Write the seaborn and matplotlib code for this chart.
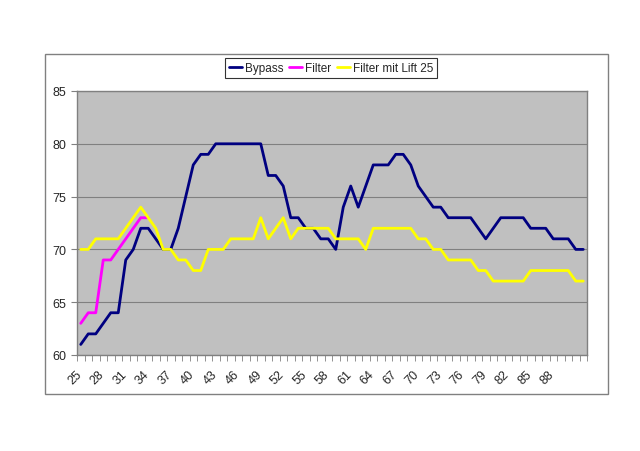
import numpy as np
import pandas as pd
import seaborn as sns
from matplotlib import pyplot as plt
from matplotlib.patches import Rectangle
from matplotlib.transforms import ScaledTranslation

# x-Kategorien 25..92
kategorien = list(range(25, 93))

bypass = [61, 62, 62, 63, 64, 64, 69, 70, 72, 72,
          71, 70, 70, 72, 75, 78, 79, 79, 80, 80,
          80, 80, 80, 80, 80, 77, 77, 76, 73, 73,
          72, 72, 71, 71, 70, 74, 76, 74, 76, 78,
          78, 78, 79, 79, 78, 76, 75, 74, 74, 73,
          73, 73, 73, 72, 71, 72, 73, 73, 73, 73,
          72, 72, 72, 71, 71, 71, 70, 70]

filter_werte = [63, 64, 64, 69, 69, 70, 71, 72, 73, 73]

filter_lift = [70, 70, 71, 71, 71, 71, 72, 73, 74, 73,
               72, 70, 70, 69, 69, 68, 68, 70, 70, 70,
               71, 71, 71, 71, 73, 71, 72, 73, 71, 72,
               72, 72, 72, 72, 71, 71, 71, 71, 70, 72,
               72, 72, 72, 72, 72, 71, 71, 70, 70, 69,
               69, 69, 69, 68, 68, 67, 67, 67, 67, 67,
               68, 68, 68, 68, 68, 68, 67, 67]

serien = ["Bypass", "Filter", "Filter mit Lift 25"]
farben = ["#000080", "#FF00FF", "#FFFF00"]

# DataFrame im Long-Format
pos = np.arange(len(kategorien))
df = pd.concat([
    pd.DataFrame({"pos": pos, "wert": bypass, "serie": "Bypass"}),
    pd.DataFrame({"pos": pos[:len(filter_werte)], "wert": filter_werte, "serie": "Filter"}),
    pd.DataFrame({"pos": pos, "wert": filter_lift, "serie": "Filter mit Lift 25"}),
])

sns.set_style("white")
plt.rcParams["font.family"] = ["Liberation Sans", "DejaVu Sans"]

fig = plt.figure(figsize=(6.4, 4.52), dpi=100)
ax = fig.add_axes([77 / 640, 1 - 356 / 452, 510 / 640, 264 / 452])
ax.set_facecolor("#C0C0C0")

sns.lineplot(data=df, x="pos", y="wert", hue="serie", hue_order=serien,
             palette=farben, linewidth=2, ax=ax, legend=False)

ax.set_xlim(-0.5, len(kategorien) - 0.5)
ax.set_ylim(60, 85)
ax.set_yticks(range(60, 90, 5))
ax.grid(axis="y", color="#808080", linewidth=0.8)
ax.set_axisbelow(True)

# Beschriftung alle 3 Kategorien, Striche an den Kategoriegrenzen
label_pos = [i for i in range(0, len(kategorien), 3) if kategorien[i] <= 88]
ax.set_xticks(label_pos)
ax.set_xticklabels([str(kategorien[i]) for i in label_pos], rotation=45,
                   ha="right", rotation_mode="anchor", fontsize=9)
ax.set_xticks(np.arange(-0.5, len(kategorien), 1), minor=True)
ax.tick_params(axis="x", which="major", length=0, pad=9)
ax.tick_params(axis="x", which="minor", length=4, color="#808080", direction="out", bottom=True)
ax.tick_params(axis="y", length=4, color="#808080", direction="out", left=True, labelsize=9)
versatz = ScaledTranslation(-5 / 100, 0, fig.dpi_scale_trans)
for lbl in ax.get_xticklabels():
    lbl.set_transform(lbl.get_transform() + versatz)
ax.set_xlabel("")
ax.set_ylabel("")
for s in ax.spines.values():
    s.set_color("#808080")
    s.set_linewidth(1)

# Legende oben
handles = [plt.Line2D([], [], color=c, linewidth=2) for c in farben]
leg = fig.legend(handles, serien, loc="center", bbox_to_anchor=(331 / 640, 1 - 69 / 452),
                 ncol=3, frameon=True, fancybox=False, fontsize=8.5, handlelength=1.1,
                 handletextpad=0.25, columnspacing=0.5, borderpad=0.3, borderaxespad=0)
leg.get_frame().set_edgecolor("#000000")
leg.get_frame().set_linewidth(0.8)

# Rahmen des Diagrammbereichs
fig.patches.append(Rectangle((45 / 640, 1 - 395 / 452), 563 / 640, 340 / 452,
                             transform=fig.transFigure, fill=False,
                             edgecolor="#808080", linewidth=1))

fig.savefig("out.png", dpi=100)
plt.close(fig)
